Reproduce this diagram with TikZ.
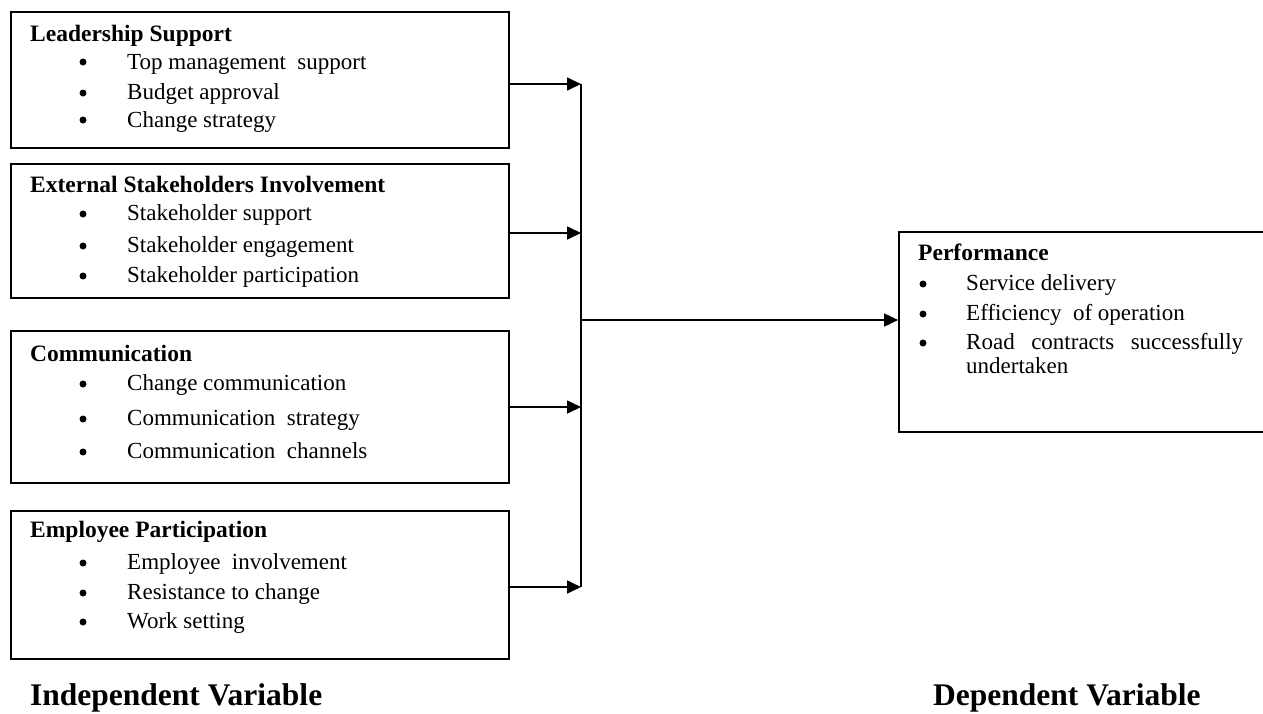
\documentclass[tikz,border=0pt]{standalone}
\usepackage{fontspec}
\setmainfont{Liberation Serif}
\usetikzlibrary{arrows.meta}
\begin{document}
\begin{tikzpicture}[x=1pt,y=-1pt,
  box/.style={draw, line width=1.7pt, inner sep=0pt},
  hd/.style={anchor=base west, inner sep=0pt, font=\fontsize{23.5}{27}\selectfont\bfseries},
  it/.style={anchor=base west, inner sep=0pt, font=\fontsize{23}{27}\selectfont},
  bul/.style={circle, fill, inner sep=0pt, minimum size=7pt},
  lab/.style={anchor=base west, inner sep=0pt, font=\fontsize{31.5}{35}\selectfont\bfseries},
  wire/.style={line width=1.7pt},
  arr/.style={line width=1.7pt, -{Triangle[length=14pt,width=13pt]}}]
\useasboundingbox (0,0) rectangle (1263,713);
% boxes
\node[box, minimum width=498pt, minimum height=136pt] (b1) at (260,80) {};
\node[box, minimum width=498pt, minimum height=134pt] (b2) at (260,231) {};
\node[box, minimum width=498pt, minimum height=152pt] (b3) at (260,407) {};
\node[box, minimum width=498pt, minimum height=148pt] (b4) at (260,585) {};
\node[box, minimum width=376pt, minimum height=200pt] (p) at (1087,332) {};
% box 1
\node[hd] (h1) at (30,41) {Leadership Support};
\node[bul] (u11) at (83,62) {}; \node[it] (t11) at (127,69) {Top management\ \ support};
\node[bul] (u12) at (83,93) {}; \node[it] (t12) at (127,99) {Budget approval};
\node[bul] (u13) at (83,120) {}; \node[it] (t13) at (127,127) {Change strategy};
% box 2
\node[hd] (h2) at (30,192) {External Stakeholders Involvement};
\node[bul] (u21) at (83,214) {}; \node[it] (t21) at (127,220) {Stakeholder support};
\node[bul] (u22) at (83,246) {}; \node[it] (t22) at (127,252) {Stakeholder engagement};
\node[bul] (u23) at (83,276) {}; \node[it] (t23) at (127,282) {Stakeholder participation};
% box 3
\node[hd] (h3) at (30,361) {Communication};
\node[bul] (u31) at (83,384) {}; \node[it] (t31) at (127,390) {Change communication};
\node[bul] (u32) at (83,419) {}; \node[it] (t32) at (127,425) {Communication\ \ strategy};
\node[bul] (u33) at (83,452) {}; \node[it] (t33) at (127,458) {Communication\ \ channels};
% box 4
\node[hd] (h4) at (30,537) {Employee Participation};
\node[bul] (u41) at (83,563) {}; \node[it] (t41) at (127,569) {Employee\ \ involvement};
\node[bul] (u42) at (83,593) {}; \node[it] (t42) at (127,599) {Resistance to change};
\node[bul] (u43) at (83,622) {}; \node[it] (t43) at (127,628) {Work setting};
% performance
\node[hd] (hp) at (918,260) {Performance};
\node[bul] (up1) at (923,284) {}; \node[it] (tp1) at (966,290) {Service delivery};
\node[bul] (up2) at (923,314) {}; \node[it] (tp2) at (966,320) {Efficiency\ \ of operation};
\node[bul] (up3) at (923,343) {}; \node[it] (tp3) at (966,349) {\hbox to 277pt{Road\hfill contracts\hfill successfully}};
\node[it] (tp4) at (966,373) {undertaken};
% labels
\node[lab] (li) at (30,705) {Independent Variable};
\node[lab] (ld) at (933,705) {Dependent Variable};
% connectors
\coordinate (j1) at (581,84);
\coordinate (j2) at (581,233);
\coordinate (j3) at (581,407);
\coordinate (j4) at (581,587);
\coordinate (jm) at (581,320);
\draw[arr] (b1.east |- j1) -- (j1);
\draw[arr] (b2.east |- j2) -- (j2);
\draw[arr] (b3.east |- j3) -- (j3);
\draw[arr] (b4.east |- j4) -- (j4);
\draw[wire] (j1) -- (j4);
\draw[arr] (jm) -- (p.west |- jm);
\end{tikzpicture}
\end{document}
